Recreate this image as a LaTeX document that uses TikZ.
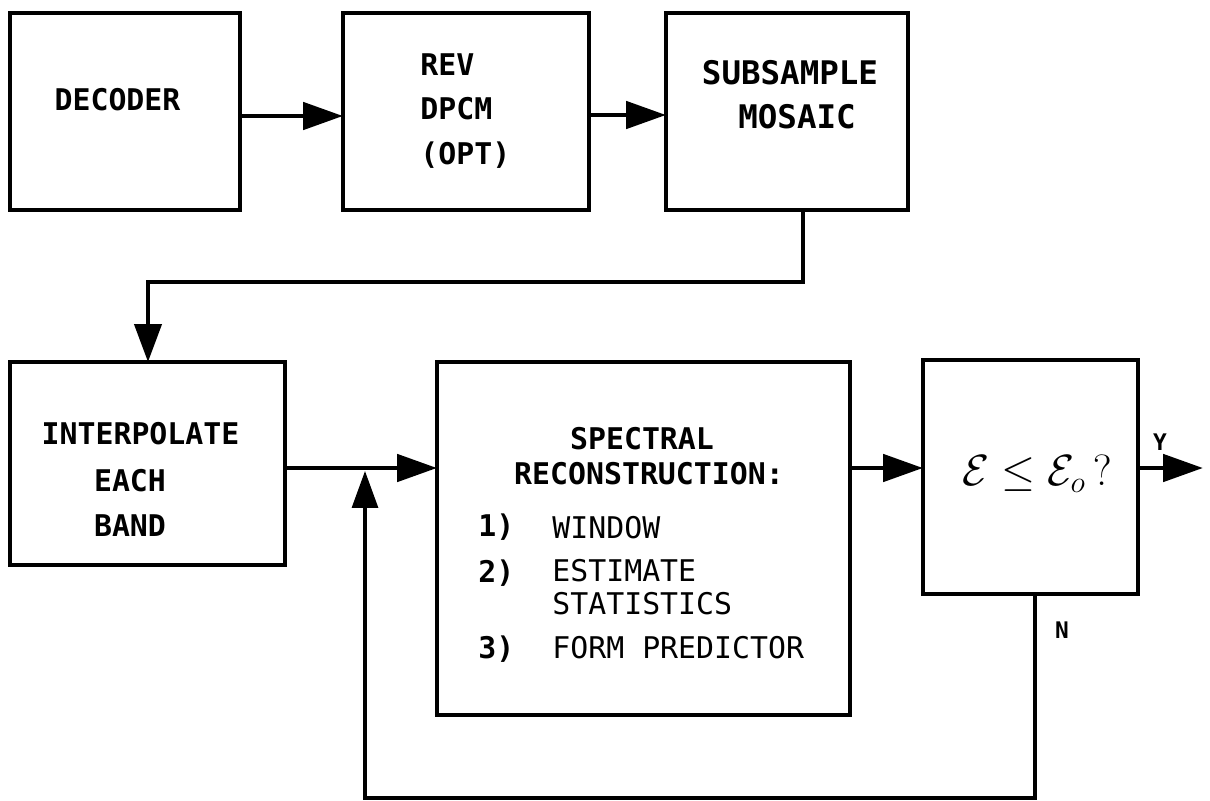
\documentclass[tikz,border=0pt]{standalone}
\usepackage{fontspec}
\usetikzlibrary{arrows.meta}
\newfontfamily\plotfont{DejaVu Sans Mono}
\begin{document}
\begin{tikzpicture}[x=0.02cm,y=-0.02cm,
  box/.style={draw,line width=2.6pt,inner sep=0pt,outer sep=0pt},
  arr/.style={line width=2.8pt,-{Triangle[length=0.8cm,width=0.54cm]}},
  conn/.style={line width=2.4pt,-{Triangle[length=0.76cm,width=0.54cm]}},
  fb/.style={line width=1.8pt,-{Triangle[length=0.74cm,width=0.52cm]}},
  lbl/.style={font={\plotfont\bfseries\fontsize{17}{20}\selectfont},inner sep=0pt,anchor=base},
  lblw/.style={lbl,anchor=base west},
  big/.style={font={\plotfont\bfseries\fontsize{18.5}{22}\selectfont},inner sep=0pt,anchor=base},
  lst/.style={font={\plotfont\fontsize{17}{20}\selectfont},inner sep=0pt,anchor=base west},
  yn/.style={font={\plotfont\bfseries\fontsize{13}{15}\selectfont},inner sep=0pt}
  ]
\useasboundingbox (0,0) rectangle (1210,801);

% boxes
\node[box,minimum width=4.6cm,minimum height=3.94cm] (dec) at (125,111.5) {};
\node[box,minimum width=4.92cm,minimum height=3.94cm] (rev) at (466,111.5) {};
\node[box,minimum width=4.84cm,minimum height=3.94cm] (sub) at (787,111.5) {};
\node[box,minimum width=5.5cm,minimum height=4.06cm] (interp) at (147.5,463.5) {};
\node[box,minimum width=8.26cm,minimum height=7.06cm] (spec) at (643.5,538.5) {};
\node[box,minimum width=4.3cm,minimum height=4.68cm] (eps) at (1030.5,477) {};

% texts
\node[lbl] (tdec) at (117.5,110) {DECODER};
\node[lblw] (trev1) at (420,75) {REV};
\node[lblw] (trev2) at (420,119) {DPCM};
\node[lblw] (trev3) at (420,164) {(OPT)};
\node[big] (tsub1) at (790,84) {SUBSAMPLE};
\node[big] (tsub2) at (797,128) {MOSAIC};
\node[lbl] (tint1) at (140.5,444) {INTERPOLATE};
\node[lbl] (tint2) at (130,491) {EACH};
\node[lbl] (tint3) at (130,536) {BAND};
\node[lbl] (tspec1) at (642,449) {SPECTRAL};
\node[lbl] (tspec2) at (649,484) {RECONSTRUCTION:};
\node[lblw] (n1) at (478,536) {1)};
\node[lblw] (n2) at (478,582) {2)};
\node[lblw] (n3) at (478,658) {3)};
\node[lst] (l1) at (552,538) {WINDOW};
\node[lst] (l2a) at (552,581) {ESTIMATE};
\node[lst] (l2b) at (552,614) {STATISTICS};
\node[lst] (l3) at (552,658) {FORM PREDICTOR};
\node[font={\fontsize{27}{30}\selectfont},inner sep=0pt] (teps) at (1037,474) {$\mathcal{E}\leq\mathcal{E}_{o}\,?$};
\node[yn] (ty) at (1160,442) {Y};
\node[yn] (tn) at (1062,630) {N};

% connectors
\coordinate (ya) at (0,116);
\coordinate (yb) at (0,115);
\coordinate (ym) at (0,468);
\coordinate (c1) at (803,282);
\coordinate (c2) at (148,282);
\coordinate (out) at (1203,468);
\coordinate (fb1) at (1035,798);
\coordinate (fb2) at (365,798);
\coordinate (fb3) at (365,471);

\draw[arr] (dec.east |- ya) -- (rev.west |- ya);
\draw[arr] (rev.east |- yb) -- (sub.west |- yb);
\draw[conn] (c1 |- sub.south) -- (c1) -- (c2) -- (c2 |- interp.north);
\draw[arr] (interp.east |- ym) -- (spec.west |- ym);
\draw[arr] (spec.east |- ym) -- (eps.west |- ym);
\draw[arr] (eps.east |- ym) -- (out);
\draw[fb] (fb1 |- eps.south) -- (fb1) -- (fb2) -- (fb3);
\end{tikzpicture}
\end{document}
